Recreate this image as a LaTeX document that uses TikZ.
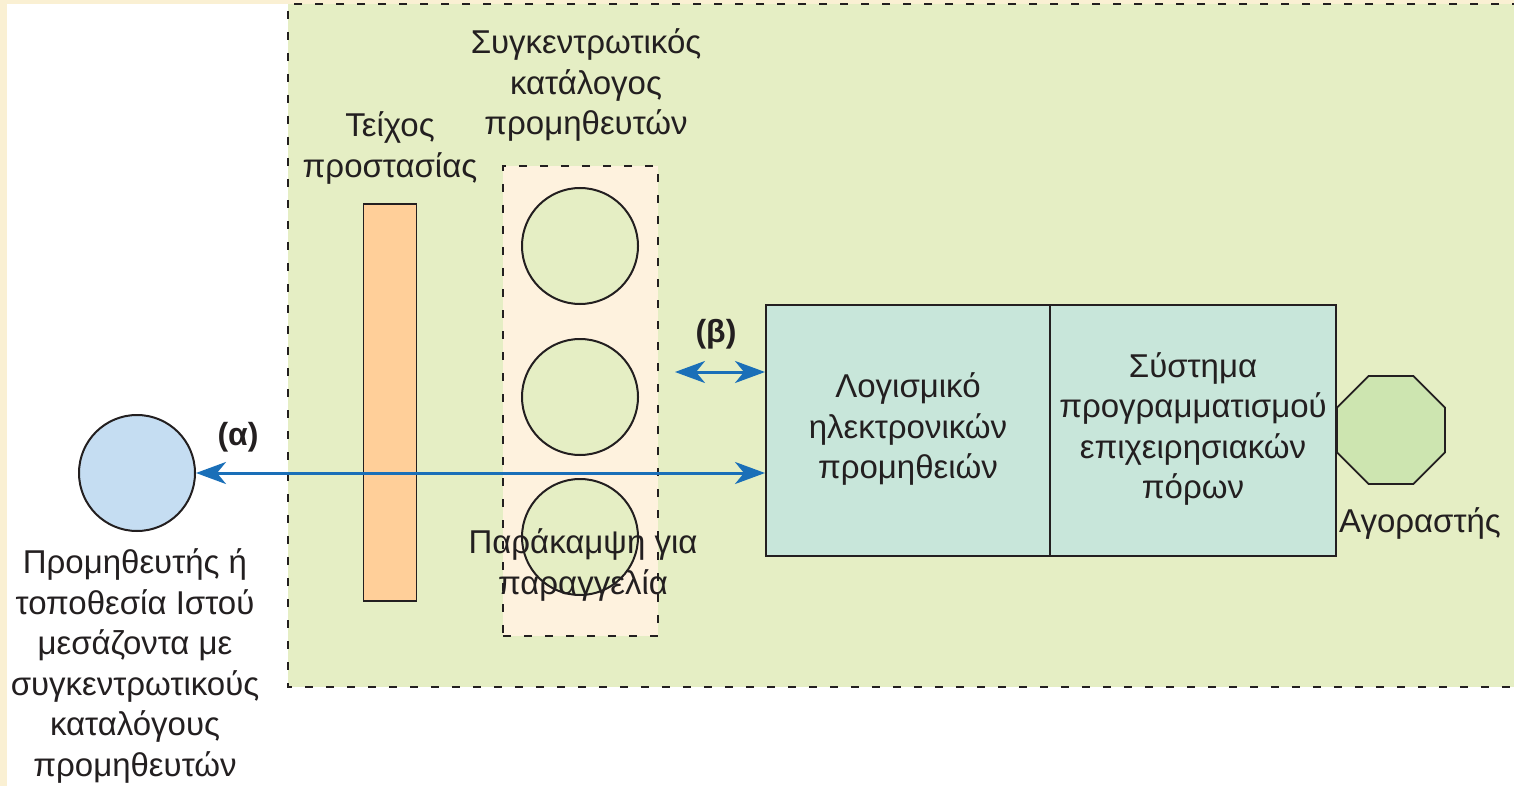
\documentclass[tikz,border=0pt]{standalone}
\usepackage{fontspec}
\setmainfont{Liberation Sans}
\usetikzlibrary{shapes.geometric,arrows.meta}
\definecolor{frameyel}{HTML}{FAF0D3}
\definecolor{zonegreen}{HTML}{E5EEC4}
\definecolor{wallorange}{HTML}{FFCF99}
\definecolor{catcream}{HTML}{FEF2DE}
\definecolor{arrowblue}{HTML}{1A6FB8}
\definecolor{supblue}{HTML}{C5DDF2}
\definecolor{boxteal}{HTML}{C8E6DA}
\definecolor{octgreen}{HTML}{CDE5B0}
\definecolor{inkgray}{HTML}{231F20}
\tikzset{
  lbl/.style={font=\fontsize{33}{40.5}\selectfont, text=inkgray, align=center, inner sep=0pt},
  tag/.style={font=\fontsize{32}{40}\selectfont\bfseries, text=inkgray, inner sep=0pt},
  catcircle/.style={circle, draw=inkgray, line width=2pt, fill=zonegreen, minimum size=116pt, inner sep=0pt},
  dashframe/.style={draw=inkgray, line width=2.3pt, dash pattern=on 8pt off 13pt},
  tipa/.tip={Stealth[length=30pt,width=22pt,inset=9pt]},
  flow/.style={draw=arrowblue, line width=3pt, tipa-tipa},
}
\begin{document}
\begin{tikzpicture}[x=1pt,y=-1pt]
\useasboundingbox (0,0) rectangle (1514,786);
% frame
\fill[frameyel] (0,0) rectangle (1514,786);
\fill[white] (7,4) rectangle (1514,786);
% green zone
\fill[zonegreen] (288,4) rectangle (1520,687);
\draw[dashframe] (1520,4) -- (288,4) -- (288,687) -- (1520,687);
% firewall
\node[draw=inkgray, line width=1.8pt, fill=wallorange, minimum width=53pt, minimum height=397pt, inner sep=0pt] (wall) at (390,402.5) {};
\node[lbl] (walltxt) at (390,148) {Τείχος\\προστασίας};
% catalogue box
\node[fill=catcream, dashframe, minimum width=155pt, minimum height=470pt, inner sep=0pt] (cat) at (580.5,401) {};
\node[lbl] (cattxt) at (586,85) {Συγκεντρωτικός\\κατάλογος\\προμηθευτών};
\node[catcircle] (c1) at (580,246) {};
\node[catcircle] (c2) at (580,397) {};
\node[catcircle] (c3) at (580,537) {};
% supplier
\node[circle, draw=inkgray, line width=2pt, fill=supblue, minimum size=116pt, inner sep=0pt] (sup) at (137,473) {};
\node[lbl] (suptxt) at (135,666) {Προμηθευτής ή\\τοποθεσία Ιστού\\μεσάζοντα με\\συγκεντρωτικούς\\καταλόγους\\προμηθευτών};
% systems box
\node[draw=inkgray, line width=2pt, fill=boxteal, minimum width=284pt, minimum height=251pt, inner sep=0pt] (eproc) at (908,430.5) {};
\node[draw=inkgray, line width=2pt, fill=boxteal, minimum width=286pt, minimum height=251pt, inner sep=0pt] (erp) at (1193,430.5) {};
\node[lbl] (eproctxt) at (908,429) {Λογισμικό\\ηλεκτρονικών\\προμηθειών};
\node[lbl] (erptxt) at (1193,429) {Σύστημα\\προγραμματισμού\\επιχειρησιακών\\πόρων};
% buyer
\node[regular polygon, regular polygon sides=8, draw=inkgray, line width=1.8pt, fill=octgreen, minimum size=117pt, inner sep=0pt] (buyer) at (1391,430) {};
\node[lbl] (buyertxt) at (1420,523) {Αγοραστής};
% bypass label
\node[lbl] (bypass) at (583,565) {Παράκαμψη για\\παραγγελία};
% arrows
\coordinate (aL) at (sup.east);
\coordinate (aR) at (eproc.west |- sup.east);
\draw[flow] (aL) -- (aR);
\coordinate (bL) at (675,372);
\coordinate (bR) at (eproc.west |- bL);
\draw[flow] (bL) -- (bR);
\node[tag] (alpha) at (238,437) {(α)};
\node[tag] (beta) at (716,334) {(β)};
\end{tikzpicture}
\end{document}
